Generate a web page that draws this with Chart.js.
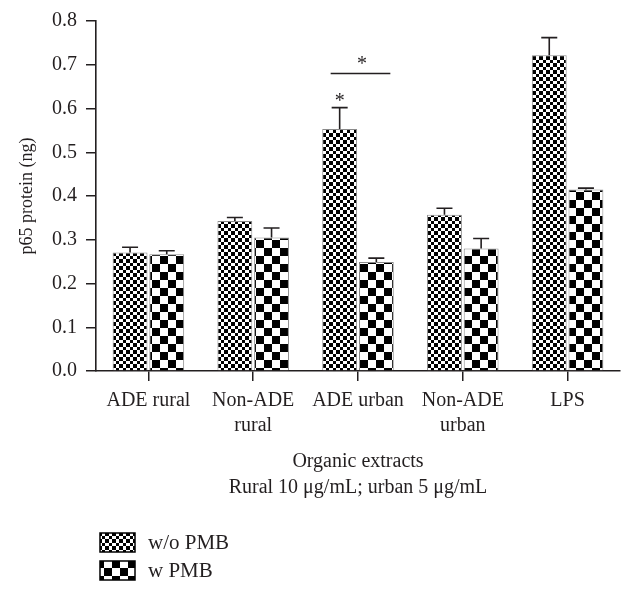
<!DOCTYPE html>
<html>
<head>
<meta charset="utf-8">
<script src="https://cdn.jsdelivr.net/npm/chart.js@4"></script>
<style>
html,body{margin:0;padding:0;background:#fff;}
#wrap{width:634px;height:595px;position:relative;}
</style>
</head>
<body>
<div id="wrap"><canvas id="c" width="634" height="595"></canvas></div>
<script>
const categories = [["ADE rural"], ["Non-ADE", "rural"], ["ADE urban"], ["Non-ADE", "urban"], ["LPS"]];
const seriesNames = ["w/o PMB", "w PMB"];
const withoutPMB = [0.271, 0.343, 0.553, 0.357, 0.722];
const withoutPMBErr = [0.012, 0.008, 0.049, 0.015, 0.040];
const withPMB = [0.267, 0.305, 0.249, 0.280, 0.415];
const withPMBErr = [0.008, 0.022, 0.009, 0.023, 0.003];
const yTicks = [0.0, 0.1, 0.2, 0.3, 0.4, 0.5, 0.6, 0.7, 0.8];
const yTitle = "p65 protein (ng)";
const xTitle = ["Organic extracts", "Rural 10 \u03bcg/mL; urban 5 \u03bcg/mL"];
// significance: star above single bar, and bracket between pair
const starAbove = [{cat: 2, ds: 0, value: 0.628}];
const bracket = [{cat: 2, value: 0.68, starValue: 0.712}];

const FONT = "'Liberation Serif', 'DejaVu Serif', serif";
const INK = '#231f20';

function makePattern(sizes) {
  const total = sizes.reduce((a, b) => a + b, 0);
  const n = sizes.length;
  const c = document.createElement('canvas');
  c.width = total; c.height = total;
  const g = c.getContext('2d');
  g.fillStyle = '#fff';
  g.fillRect(0, 0, total, total);
  g.fillStyle = '#000';
  let y = 0;
  for (let i = 0; i < n; i++) {
    let x = 0;
    for (let j = 0; j < n; j++) {
      if ((i + j) % 2 === 0) g.fillRect(x, y, sizes[j], sizes[i]);
      x += sizes[j];
    }
    y += sizes[i];
  }
  return g.createPattern(c, 'repeat');
}
const ctx0 = document.getElementById('c').getContext('2d');
const finePattern = makePattern([4, 3, 4, 3]);
const coarsePattern = makePattern([8, 8]);

const overlay = {
  id: 'overlay',
  afterDatasetsDraw(chart) {
    const ctx = chart.ctx;
    const y = chart.scales.y;
    const errs = [withoutPMBErr, withPMBErr];
    const vals = [withoutPMB, withPMB];
    ctx.save();
    ctx.strokeStyle = INK;
    ctx.lineWidth = 1.6;
    for (let d = 0; d < 2; d++) {
      const meta = chart.getDatasetMeta(d);
      meta.data.forEach((bar, i) => {
        const top = y.getPixelForValue(vals[d][i]);
        const e = y.getPixelForValue(vals[d][i] + errs[d][i]);
        ctx.beginPath();
        ctx.moveTo(bar.x, top);
        ctx.lineTo(bar.x, e);
        ctx.moveTo(bar.x - 8, e);
        ctx.lineTo(bar.x + 8, e);
        ctx.stroke();
      });
    }
    ctx.fillStyle = INK;
    ctx.font = "20px " + FONT;
    ctx.textAlign = 'center';
    ctx.textBaseline = 'middle';
    starAbove.forEach(s => {
      const bar = chart.getDatasetMeta(s.ds).data[s.cat];
      ctx.fillText('*', bar.x, y.getPixelForValue(s.value) + 5);
    });
    bracket.forEach(b => {
      const b0 = chart.getDatasetMeta(0).data[b.cat];
      const b1 = chart.getDatasetMeta(1).data[b.cat];
      const py = y.getPixelForValue(b.value);
      ctx.beginPath();
      ctx.moveTo(b0.x - 9, py);
      ctx.lineTo(b1.x + 14, py);
      ctx.stroke();
      ctx.fillText('*', (b0.x + b1.x) / 2 + 4, y.getPixelForValue(b.starValue) + 5);
    });
    ctx.restore();
  },
  afterDraw(chart) {
    const ctx = chart.ctx;
    ctx.save();
    const pats = [finePattern, coarsePattern];
    const rows = [533, 561];
    for (let i = 0; i < 2; i++) {
      ctx.fillStyle = pats[i];
      ctx.fillRect(100, rows[i], 35, 19);
      ctx.strokeStyle = '#000';
      ctx.lineWidth = 1.5;
      ctx.strokeRect(100, rows[i], 35, 19);
      ctx.fillStyle = INK;
      ctx.font = "21px " + FONT;
      ctx.textAlign = 'left';
      ctx.textBaseline = 'middle';
      ctx.fillText(seriesNames[i], 148, rows[i] + 10);
    }
    ctx.restore();
  }
};

new Chart(ctx0, {
  type: 'bar',
  data: {
    labels: categories,
    datasets: [
      {label: seriesNames[0], data: withoutPMB, backgroundColor: finePattern, borderColor: '#8a8a8a', borderWidth: 1},
      {label: seriesNames[1], data: withPMB, backgroundColor: coarsePattern, borderColor: '#8a8a8a', borderWidth: 1}
    ]
  },
  options: {
    responsive: false,
    animation: false,
    datasets: {bar: {barPercentage: 0.95, categoryPercentage: 0.7}},
    layout: {padding: {top: 21, right: 14, bottom: 0, left: 0}},
    plugins: {legend: {display: false}, tooltip: {enabled: false}},
    scales: {
      x: {
        grid: {offset: false, drawOnChartArea: false, drawTicks: true, tickLength: 10, color: INK, lineWidth: 1.5},
        border: {display: true, color: INK, width: 1.6},
        ticks: {color: INK, font: {family: FONT, size: 20, lineHeight: 1.25}, padding: 7, maxRotation: 0, autoSkip: false},
        title: {display: true, text: xTitle, color: INK, font: {family: FONT, size: 20, lineHeight: 1.3}, padding: {top: 0, bottom: 94}},
        afterFit(s) { s.height = 224; }
      },
      y: {
        min: 0, max: 0.8,
        afterBuildTicks(s) { s.ticks = yTicks.map(v => ({value: v})); },
        grid: {drawOnChartArea: false, drawTicks: true, tickLength: 10, color: INK, lineWidth: 1.5},
        border: {display: true, color: INK, width: 1.6},
        ticks: {color: INK, font: {family: FONT, size: 20}, padding: 9, callback: v => Number(v).toFixed(1)},
        title: {display: true, text: yTitle, color: INK, font: {family: FONT, size: 18, lineHeight: 1.2}, padding: {top: 16, bottom: 0}},
        afterFit(s) { s.width = 96; }
      }
    }
  },
  plugins: [overlay]
});
</script>
</body>
</html>
